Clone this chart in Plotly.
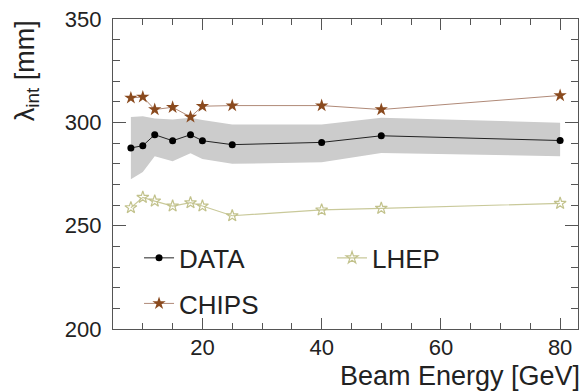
import plotly.graph_objects as go

energy = [8, 10, 12, 15, 18, 20, 25, 40, 50, 80]
data_vals = [287.6, 288.7, 294.0, 291.1, 294.0, 291.1, 289.2, 290.3, 293.5, 291.2]
band_upper = [302.6, 303.0, 301.9, 301.4, 302.2, 301.1, 299.0, 299.0, 302.2, 299.8]
band_lower = [272.5, 276.0, 283.6, 281.2, 285.0, 282.3, 279.9, 280.7, 285.2, 283.6]
chips_vals = [311.8, 312.3, 306.2, 307.3, 302.6, 307.8, 308.1, 308.1, 306.2, 313.0]
lhep_vals = [258.7, 263.7, 261.9, 259.5, 261.1, 259.5, 254.8, 257.6, 258.4, 260.8]

x_title = "Beam Energy [GeV]"
y_title = "λ<sub>int</sub> [mm]"

FONT = "Liberation Sans, Arial, sans-serif"

fig = go.Figure()

# Systematic band
fig.add_trace(go.Scatter(x=energy, y=band_lower, mode="lines", line=dict(width=0, color="#cccccc"),
                         showlegend=False, hoverinfo="skip"))
fig.add_trace(go.Scatter(x=energy, y=band_upper, mode="lines", line=dict(width=0, color="#cccccc"),
                         fill="tonexty", fillcolor="#cccccc", showlegend=False, hoverinfo="skip"))

fig.add_trace(go.Scatter(x=energy, y=data_vals, name="DATA", mode="lines+markers",
                         line=dict(color="#222222", width=1),
                         marker=dict(symbol="circle", size=7, color="#000000"), legend="legend"))
fig.add_trace(go.Scatter(x=energy, y=lhep_vals, name="LHEP", mode="lines+markers",
                         line=dict(color="#c9c99a", width=1.2),
                         marker=dict(symbol="star-open", size=9, color="#c2c28c", line=dict(width=1.2)),
                         legend="legend"))
fig.add_trace(go.Scatter(x=energy, y=chips_vals, name="CHIPS", mode="lines+markers",
                         line=dict(color="#b08a78", width=1),
                         marker=dict(symbol="star", size=10, color="#8a4a1e"), legend="legend2"))

axis_common = dict(
    showline=True, linecolor="#555555", linewidth=1.3, mirror="ticks",
    ticks="inside", tickcolor="#555555", tickwidth=1.2,
    showgrid=False, zeroline=False,
    tickfont=dict(family=FONT, size=22, color="#222222"),
)

fig.update_xaxes(range=[5, 83], tick0=0, dtick=20, ticklen=11,
                 minor=dict(dtick=5, tick0=0, ticks="inside", ticklen=6, tickcolor="#555555"),
                 ticklabelstandoff=-2, **axis_common)
fig.update_yaxes(range=[200, 350], tick0=200, dtick=50, ticklen=13,
                 minor=dict(dtick=10, tick0=200, ticks="inside", ticklen=7, tickcolor="#555555"),
                 ticklabelstandoff=6, **axis_common)

fig.add_annotation(text=x_title, xref="paper", yref="paper", x=1.008, y=-0.15,
                   xanchor="right", yanchor="middle", showarrow=False,
                   font=dict(family=FONT, size=27, color="#222222"))
fig.add_annotation(text=y_title, xref="paper", yref="paper", x=-0.185, y=0.835,
                   xanchor="center", yanchor="middle", textangle=-90, showarrow=False,
                   font=dict(family=FONT, size=27, color="#222222"))

legend_common = dict(orientation="h", xanchor="left", yanchor="top",
                     entrywidth=148, entrywidthmode="pixels", bgcolor="rgba(0,0,0,0)",
                     font=dict(family=FONT, size=26, color="#222222"), traceorder="normal")

fig.update_layout(
    width=586, height=392,
    margin=dict(l=113, r=7, t=15, b=63),
    plot_bgcolor="white", paper_bgcolor="white",
    legend=dict(x=0.056, y=0.305, **legend_common),
    legend2=dict(x=0.056, y=0.158, **legend_common),
)

fig.write_html("out.html")
